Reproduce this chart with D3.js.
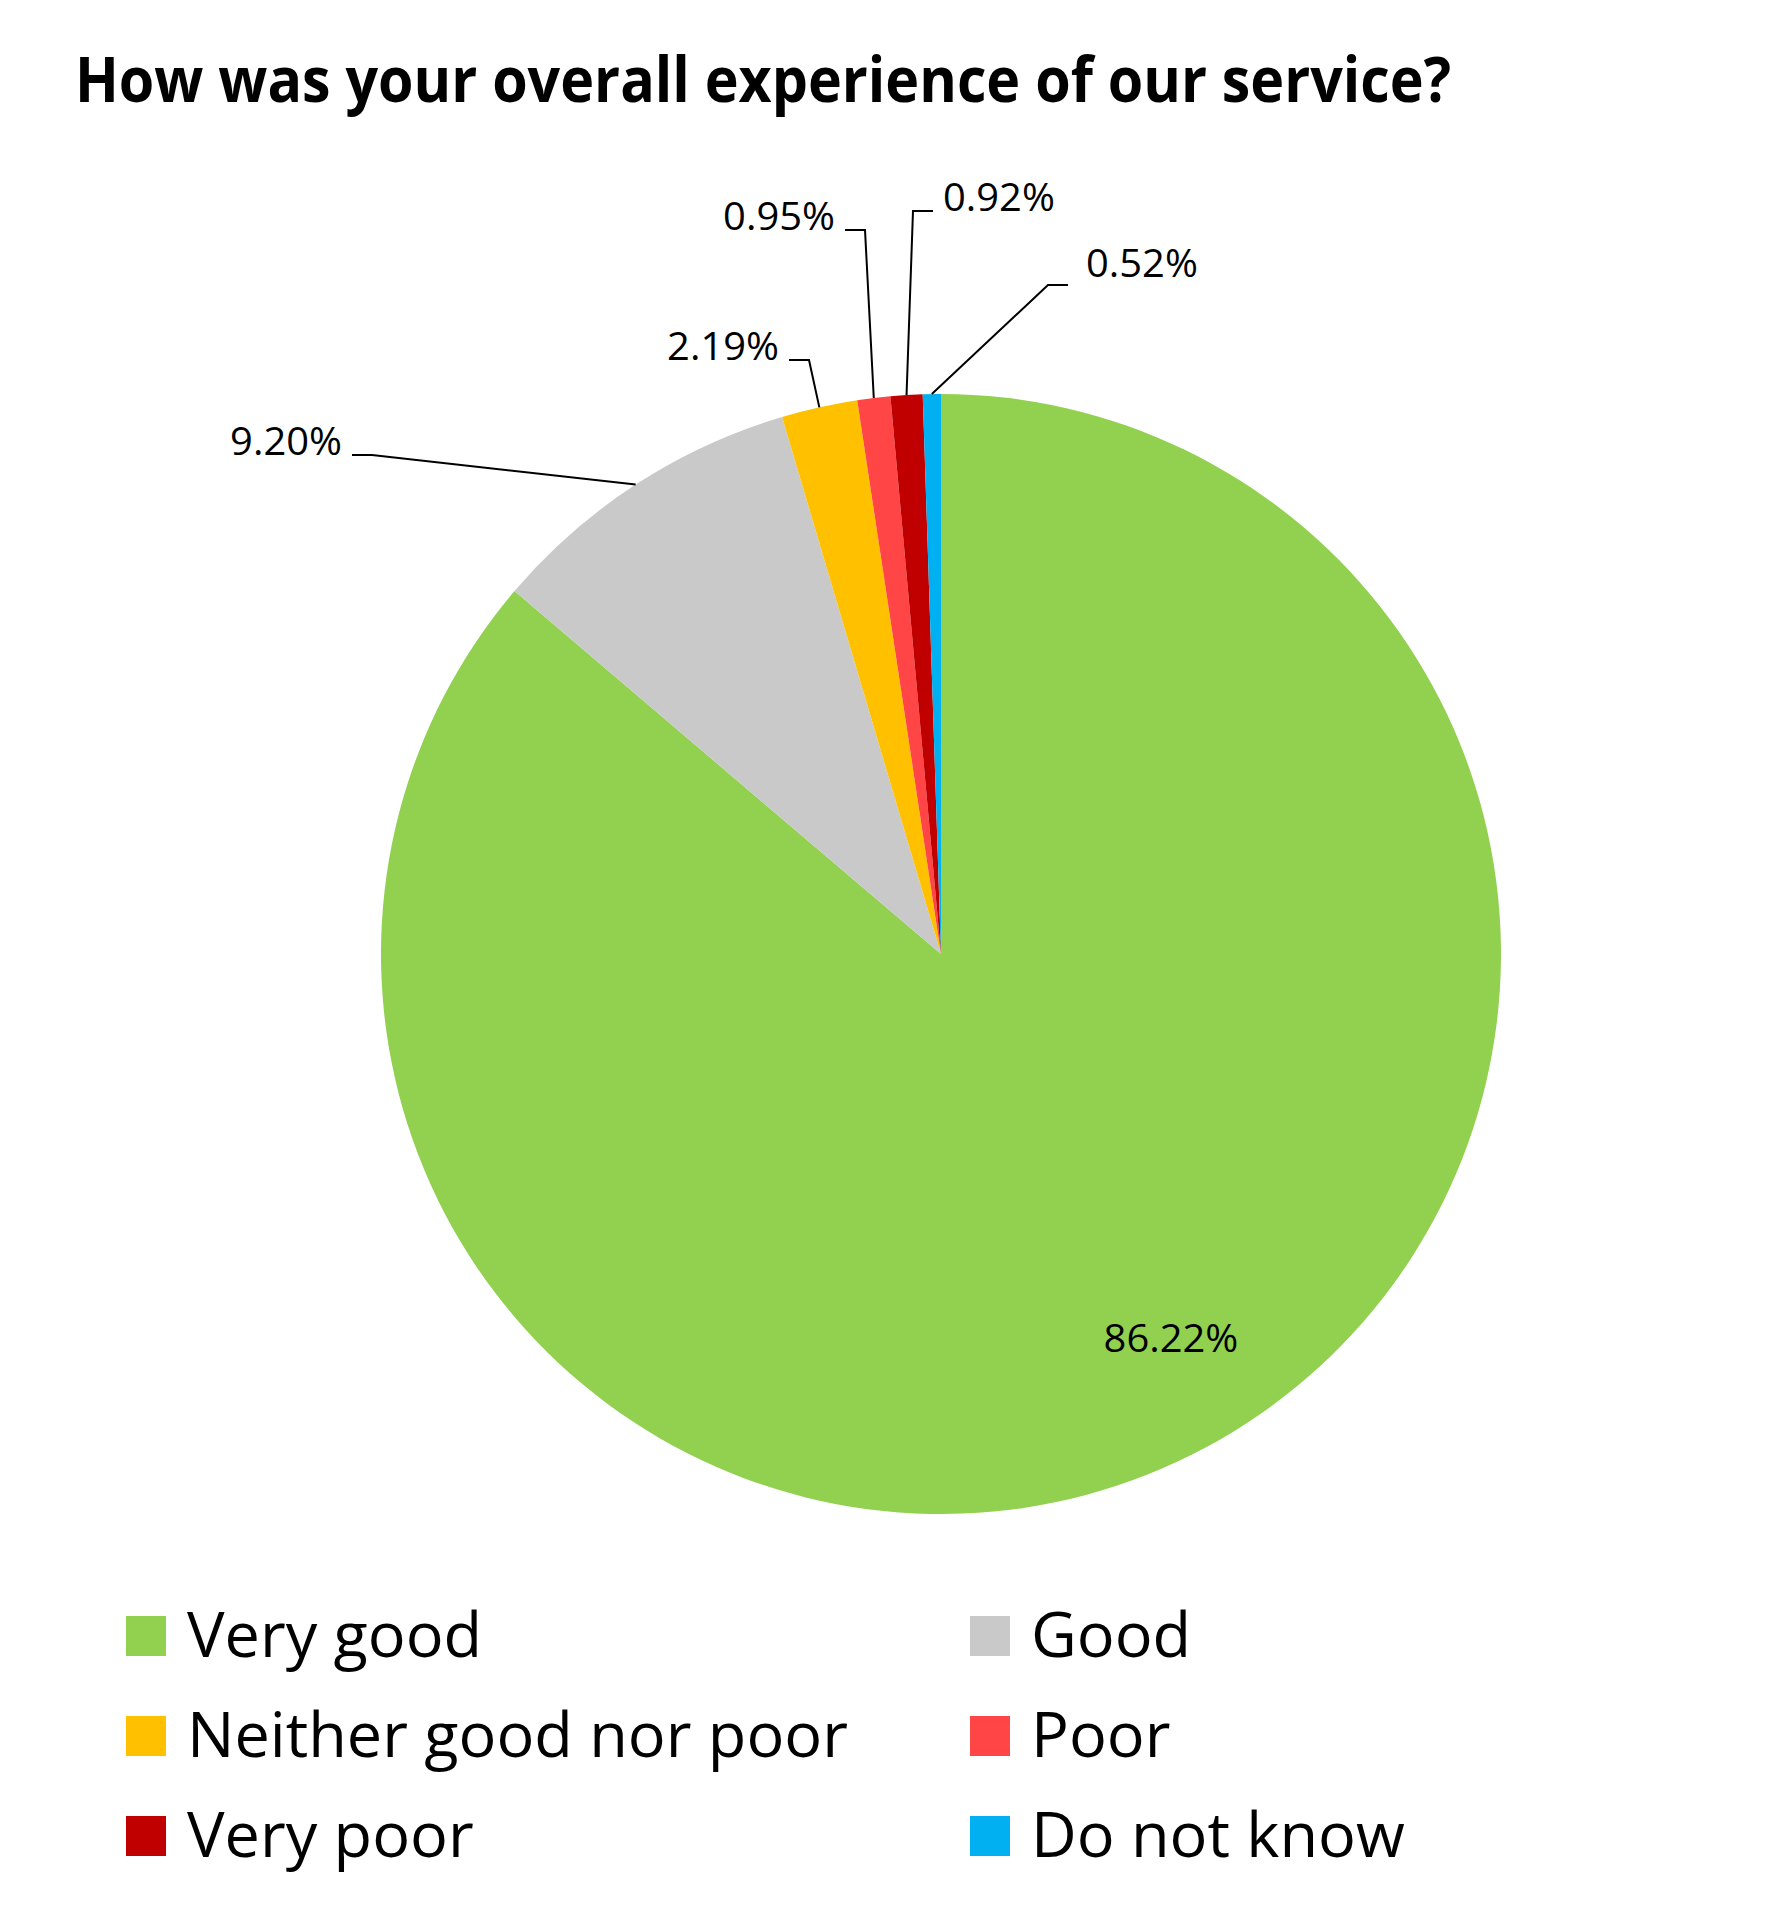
<!DOCTYPE html>
<html>
<head>
<meta charset="utf-8">
<script src="https://cdn.jsdelivr.net/npm/d3@7"></script>
<style>
  html, body { margin: 0; padding: 0; background: #fff; }
  text { font-family: "Open Sans", "Noto Sans", sans-serif; fill: #000; }
</style>
</head>
<body>
<div id="chart"></div>
<script>
// chart data
const title = 'How was your overall experience of our service?';
const categories = ['Very good', 'Good', 'Neither good nor poor', 'Poor', 'Very poor', 'Do not know'];
const shares = [86.22, 9.20, 2.19, 0.95, 0.92, 0.52];
const colors = ['#92D050', '#C9C9C9', '#FFC000', '#FF4545', '#C00000', '#00B0F0'];

// label placement (elbow offset from pie centre, which side the text sits on)
const labelOffsets = [[230, 398], [-569, -499], [-132, -594], [-76, -724], [-28, -743], [107, -669]];
const labelSides = ['inside', 'left', 'left', 'left', 'right', 'right'];

const width = 1775, height = 1914;
const cx = 941, cy = 954, radius = 560;

const svg = d3.select('#chart').append('svg')
    .attr('width', width).attr('height', height);
svg.append('rect').attr('width', width).attr('height', height).attr('fill', '#fff');

// stretch/narrow a text to the proportions of the original face
let squeeze = (sel, k) => {
    sel.each(function () {
        let len = this.getComputedTextLength();
        d3.select(this).attr('textLength', len * k).attr('lengthAdjust', 'spacingAndGlyphs');
    });
};

svg.append('text')
    .attr('x', 75).attr('y', 102)
    .style('font-size', '63px').style('font-weight', 'bold')
    .text(title)
    .call(squeeze, 0.91);

let data = categories.map((c, i) => ({ name: c, value: shares[i], color: colors[i] }));

let pie = d3.pie().sort(null).value(d => d.value);
let arcs = pie(data);
let arc = d3.arc().innerRadius(0).outerRadius(radius);
let rim = d3.arc().innerRadius(radius).outerRadius(radius);

let g = svg.append('g').attr('transform', 'translate(' + cx + ',' + cy + ')');
g.selectAll('path.slice').data(arcs).enter().append('path')
    .attr('class', 'slice')
    .attr('d', arc)
    .attr('fill', d => d.data.color);

let fmt = (v) => v.toFixed(2) + '%';
let seg = 20, gap = 10;

arcs.forEach((d, i) => {
    let side = labelSides[i];
    let off = labelOffsets[i];
    if (side === 'inside') {
        g.append('text')
            .attr('x', off[0]).attr('y', off[1])
            .attr('text-anchor', 'middle')
            .style('font-size', '38px')
            .text(fmt(d.data.value))
            .call(squeeze, 1.05);
        return;
    }
    let start = rim.centroid(d);
    let dir = side === 'left' ? -1 : 1;
    let end = [off[0] + dir * seg, off[1]];
    g.append('polyline')
        .attr('points', [start, off, end].map(p => p.join(',')).join(' '))
        .attr('fill', 'none').attr('stroke', '#000').attr('stroke-width', 2);
    // the last label sits a little above its leader
    let lift = i === arcs.length - 1 ? 8 : 0;
    let tx = end[0] + dir * (i === arcs.length - 1 ? 18 : gap);
    g.append('text')
        .attr('x', tx).attr('y', off[1] - lift)
        .attr('text-anchor', side === 'left' ? 'end' : 'start')
        .style('font-size', '38px')
        .text(fmt(d.data.value))
        .call(squeeze, 1.05);
});

// legend, two columns
let legend = svg.append('g').selectAll('.legend').data(data).enter().append('g')
    .attr('class', 'legend')
    .attr('transform', (d, i) => 'translate(' + (126 + (i % 2) * 844) + ',' + (1657 + Math.floor(i / 2) * 100) + ')');
legend.append('rect')
    .attr('x', 0).attr('y', -41).attr('width', 40).attr('height', 40)
    .attr('fill', d => d.color);
legend.append('text')
    .attr('x', 61).attr('y', 0)
    .style('font-size', '63px')
    .text(d => d.name)
    .call(squeeze, 1.0);
</script>
</body>
</html>
